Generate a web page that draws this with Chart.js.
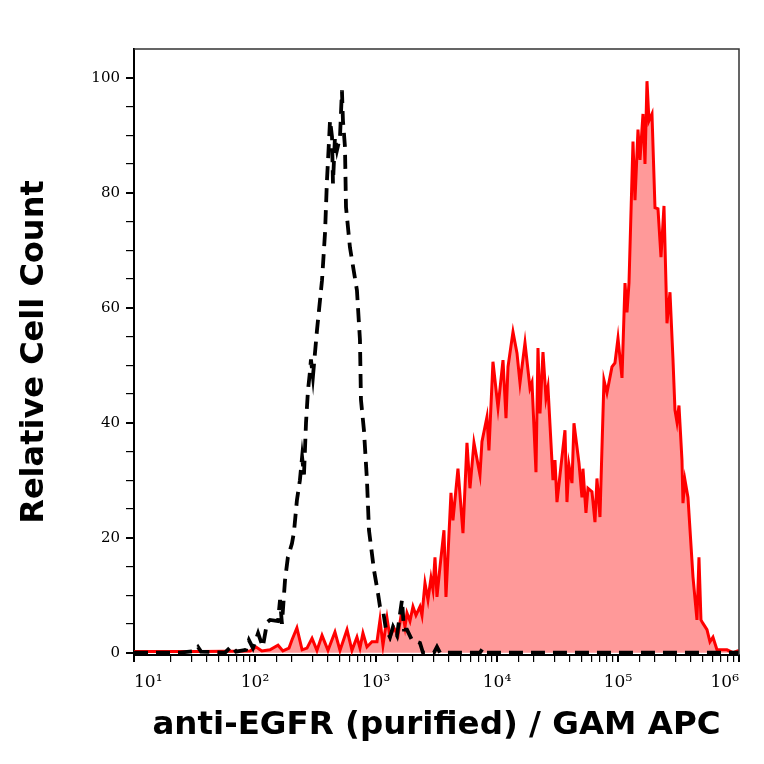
<!DOCTYPE html>
<html>
<head>
<meta charset="utf-8">
<title>anti-EGFR (purified) / GAM APC</title>
<script src="https://cdn.jsdelivr.net/npm/chart.js@4.4.0/dist/chart.umd.min.js"></script>
<style>
	body { margin: 0; background: #fff; }
	canvas { display: block; }
</style>
</head>
<body>
<canvas id="myChart" width="764" height="764"></canvas>
<script>

//Histogram data

// isotype control - black dashed line
let controlX = [10, 24.0, 31.9, 33.8, 35.8, 56.5, 64.5, 69.6, 84.2, 89.1,
	96.2, 106, 116, 126, 133, 155, 161, 167, 177, 187,
	202, 210, 222, 235, 245, 254, 264, 274, 285, 290,
	301, 325, 358, 379, 393, 409, 417, 433, 441, 458,
	476, 504, 523, 533, 554, 565, 609, 696, 737, 751,
	795, 842, 875, 962, 1039, 1079, 1142, 1210, 1305, 1382,
	1491, 1640, 1703, 1803, 1983, 2309, 2445, 3014, 3191, 3378,
	7231, 7656, 8105, 1000000];
let controlY = [0, 0, 0.3, 1.0, 0.2, 0, 1.2, 0.2, 0.5, 2.2,
	0.8, 3.4, 1.0, 5.3, 5.7, 5.5, 9.2, 5.0, 12.6, 16.6,
	19, 21, 26.5, 30, 34, 31, 40, 45.6, 49, 51,
	48, 56, 64.8, 73, 82, 89, 92.6, 89.7, 81.6, 89.7,
	87.4, 89.7, 97.8, 92.6, 88, 77.5, 70.5, 63, 54.4, 44,
	38.7, 30, 21.3, 14.4, 10.3, 8, 7.4, 4, 2.7, 4.5,
	3, 9.2, 4, 4, 2.2, 1.7, 0, 0, 1.0, 0,
	0, 0.8, 0, 0];

// anti-EGFR stained cells - red filled
let egfrX = [10, 35.1, 90.9, 102, 114, 133, 155, 170, 191, 202,
	222, 245, 269, 296, 325, 358, 401, 458, 504, 576,
	633, 696, 737, 780, 842, 926, 1019, 1079, 1142, 1233,
	1305, 1408, 1520, 1640, 1736, 1803, 1909, 2021, 2140, 2309,
	2399, 2540, 2689, 2847, 2957, 3072, 3191, 3378, 3645, 3787,
	4165, 4326, 4758, 5233, 5647, 5978, 6451, 7231, 7511, 8261,
	8581, 9260, 10192, 11209, 11867, 12327, 13557, 14629, 15488, 17033,
	18732, 19458, 20996, 21810, 22660, 23990, 25400, 26380, 29010, 30140,
	31310, 36450, 37870, 39340, 41650, 43260, 47580, 50370, 51340, 54360,
	56470, 60930, 64510, 67010, 70950, 76560, 81050, 89140, 94380, 100000,
	107900, 114240, 118670, 123270, 133020, 138170, 146290, 151960, 160880, 167120,
	173600, 180330, 190920, 202130, 213990, 226600, 239900, 254000, 268900, 284700,
	295700, 307200, 319100, 337800, 344300, 357700, 378700, 416500, 449400, 466800,
	484900, 503700, 543600, 575500, 609300, 657500, 795200, 891400, 1000000];
let egfrY = [0.2, 0.2, 0.3, 1.0, 0.3, 0.5, 1.3, 0.3, 0.8, 2.2,
	4.3, 0.5, 0.8, 2.5, 0.4, 3.0, 0.4, 3.6, 0.4, 4.0,
	0.4, 2.7, 0.8, 3.4, 1.0, 1.9, 1.9, 5.7, 1.3, 6.0,
	2.7, 4.3, 3.0, 7.5, 4.5, 6.9, 5.5, 8.0, 6.5, 8.0,
	6.5, 12.1, 9.2, 13, 11, 16.6, 9.7, 14.9, 21.3, 9.7,
	27.8, 23, 32, 20.8, 36.5, 28.6, 36.5, 30.9, 36.7, 41,
	35.2, 50.6, 42.6, 50.9, 40.8, 49.7, 55.8, 52.1, 46.9, 53.9,
	46, 47, 31.4, 53, 41.6, 52.3, 44.3, 46.2, 30, 33.5,
	26.2, 38.7, 26.2, 32.6, 29.5, 39.9, 33, 27, 32, 24.3,
	28.6, 28, 22.7, 30.3, 23.6, 47.4, 45.2, 49.7, 50.4, 54.7,
	47.8, 64.3, 59.2, 64.3, 88.9, 78.7, 91, 85.7, 93.7, 85,
	99.4, 92.5, 93.7, 77.4, 77.2, 68.8, 77.7, 57.3, 62.7, 51,
	42.2, 40.1, 43, 33.5, 26, 30, 27, 13.2, 5.7, 16.6,
	5.7, 5.1, 4, 1.9, 2.7, 0.5, 0.5, 0, 0.4];

// axis ticks
let xDecades = [10, 100, 1000, 10000, 100000, 1000000];
let xDecadeLabels = ['10\u00b9', '10\u00b2', '10\u00b3', '10\u2074', '10\u2075', '10\u2076'];
let yTicks = [0, 5, 10, 15, 20, 25, 30, 35, 40, 45, 50, 55, 60, 65, 70, 75, 80, 85, 90, 95, 100];
let yLabelTicks = [0, 20, 40, 60, 80, 100];

function decadeIndex(value) {
	return xDecades.findIndex(d => Math.abs(value / d - 1) < 1e-6);
}

function toPoints(xs, ys) {
	return xs.map((x, i) => ({ x: x, y: ys[i] }));
}

//Top and right frame lines

const framePlugin = {
	id: 'frame',
	afterDraw(chart) {
		const { ctx, chartArea } = chart;
		ctx.save();
		ctx.strokeStyle = '#333';
		ctx.lineWidth = 1.5;
		ctx.beginPath();
		ctx.moveTo(chartArea.left, chartArea.top);
		ctx.lineTo(chartArea.right, chartArea.top);
		ctx.lineTo(chartArea.right, chartArea.bottom);
		ctx.stroke();
		ctx.restore();
	}
};

//Build chart

const ctx = document.getElementById('myChart').getContext('2d');
const myChart = new Chart(ctx, {
	type: 'line',
	data: {
		datasets: [{
			label: 'Isotype control',
			data: toPoints(controlX, controlY),
			borderColor: '#000',
			borderWidth: 3.8,
			borderDash: [14, 8],
			pointRadius: 0,
			tension: 0,
			fill: false
		}, {
			label: 'anti-EGFR',
			data: toPoints(egfrX, egfrY),
			borderColor: '#ff0000',
			backgroundColor: 'rgba(255, 0, 0, 0.4)',
			borderWidth: 3,
			pointRadius: 0,
			tension: 0,
			fill: 'origin'
		}]
	},
	options: {
		responsive: false,
		animation: false,
		devicePixelRatio: 1,
		layout: {
			padding: { left: 0, right: 25, top: 49, bottom: 0 }
		},
		plugins: {
			legend: { display: false },
			tooltip: { enabled: false }
		},
		scales: {
			x: {
				type: 'logarithmic',
				position: 'bottom',
				min: 10,
				max: 1000000,
				afterFit: (scale) => { scale.height = 109; },
				border: { color: '#000', width: 2 },
				grid: {
					drawOnChartArea: false,
					drawTicks: true,
					tickLength: 7,
					color: '#000',
					lineWidth: (c) => decadeIndex(c.tick.value) >= 0 ? 2 : 1.2
				},
				ticks: {
					autoSkip: false,
					maxRotation: 0,
					align: 'inner',
					padding: 10,
					color: '#000',
					font: { family: 'DejaVu Serif', size: 17 },
					callback: (value) => {
						let i = decadeIndex(value);
						return i >= 0 ? xDecadeLabels[i] : '';
					}
				},
				title: {
					display: true,
					text: 'anti-EGFR (purified) / GAM APC',
					color: '#000',
					font: { family: 'DejaVu Sans', size: 32.5, weight: 'bold' },
					padding: { top: 0, bottom: 19 }
				}
			},
			y: {
				min: -0.4,
				max: 105,
				afterFit: (scale) => { scale.width = 134; },
				afterBuildTicks: (scale) => {
					scale.ticks = yTicks.map(v => ({ value: v }));
				},
				border: { color: '#000', width: 2 },
				grid: {
					drawOnChartArea: false,
					drawTicks: true,
					tickLength: 8,
					color: '#000',
					lineWidth: (c) => yLabelTicks.includes(c.tick.value) ? 2 : 1.2
				},
				ticks: {
					autoSkip: false,
					padding: 6,
					color: '#000',
					font: { family: 'DejaVu Serif', size: 15 },
					callback: (value) => yLabelTicks.includes(value) ? String(value) : ''
				},
				title: {
					display: true,
					text: 'Relative Cell Count',
					color: '#000',
					font: { family: 'DejaVu Sans', size: 32, weight: 'bold' },
					padding: { top: 15, bottom: 0 }
				}
			}
		}
	},
	plugins: [framePlugin]
});
</script>
</body>
</html>
